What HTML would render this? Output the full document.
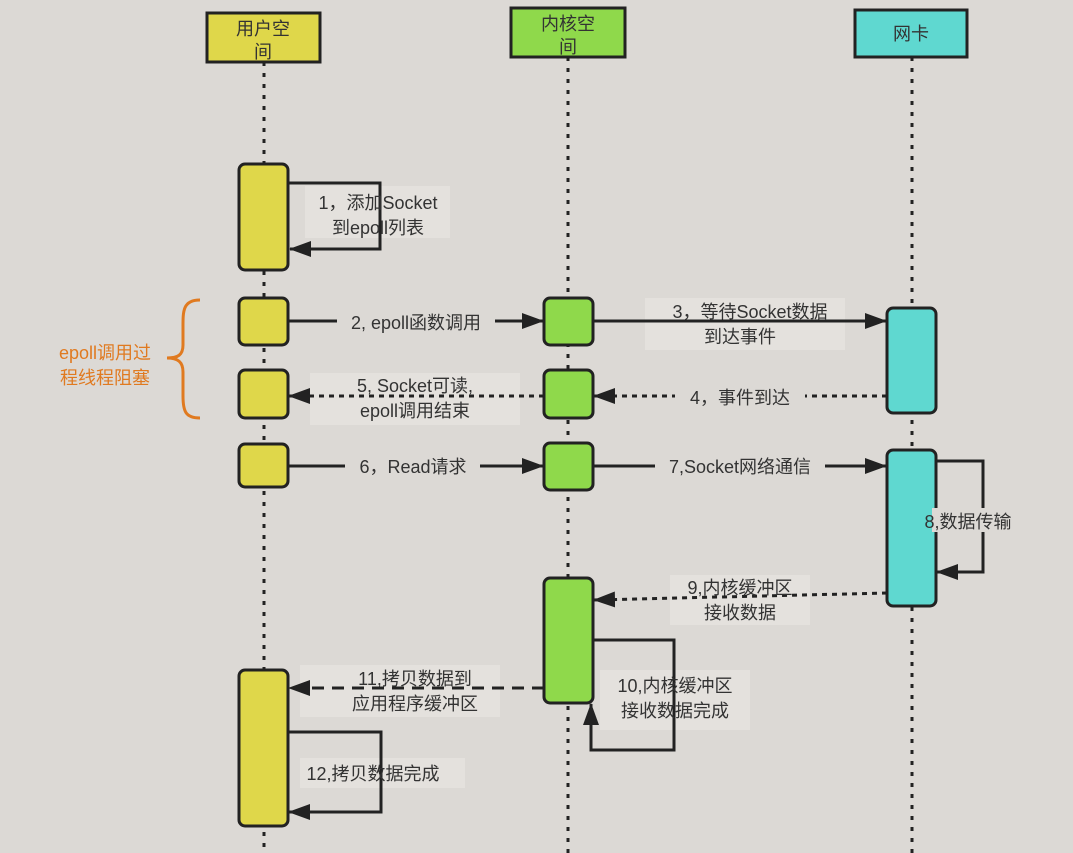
<!DOCTYPE html>
<html><head><meta charset="utf-8"><style>
html,body{margin:0;padding:0;background:#dcd9d5;}
svg{display:block;}
text{font-family:"Liberation Sans","Noto Sans CJK SC",sans-serif;font-size:18px;fill:#333;}
</style></head><body>
<svg width="1073" height="853" viewBox="0 0 1073 853" xmlns="http://www.w3.org/2000/svg">
<defs>
<marker id="a" markerWidth="12" markerHeight="10" refX="11" refY="5" orient="auto" markerUnits="userSpaceOnUse" viewBox="0 0 12 10"><path d="M0,0 L12,5 L0,10 Z" fill="#222"/></marker>
<marker id="b" markerWidth="22" markerHeight="16" refX="21" refY="8" orient="auto" markerUnits="userSpaceOnUse" viewBox="0 0 22 16"><path d="M0,0 L22,8 L0,16 Z" fill="#222"/></marker>
</defs>
<rect width="1073" height="853" fill="#dcd9d5"/>
<!-- lifelines -->
<g stroke="#222" stroke-width="3" stroke-dasharray="4,7">
<line x1="264" y1="62" x2="264" y2="853"/>
<line x1="568" y1="57" x2="568" y2="853"/>
<line x1="912" y1="57" x2="912" y2="853"/>
</g>
<!-- headers -->
<rect x="207" y="13" width="113" height="49" fill="#dfd74a" stroke="#222" stroke-width="3"/>
<text x="263" y="35" text-anchor="middle">用户空</text><text x="263" y="58" text-anchor="middle">间</text>
<rect x="511" y="8" width="114" height="49" fill="#8fd94b" stroke="#222" stroke-width="3"/>
<text x="568" y="30" text-anchor="middle">内核空</text><text x="568" y="53" text-anchor="middle">间</text>
<rect x="855" y="10" width="112" height="47" fill="#5fd8d0" stroke="#222" stroke-width="3"/>
<text x="911" y="40" text-anchor="middle">网卡</text>
<!-- label backgrounds -->
<g fill="#e4e1dd">
<rect x="305" y="186" width="145" height="52"/>
<rect x="645" y="298" width="200" height="52"/>
<rect x="310" y="373" width="210" height="52"/>
<rect x="600" y="670" width="150" height="60"/>
<rect x="300" y="665" width="200" height="52"/>
<rect x="300" y="758" width="165" height="30"/>
<rect x="670" y="575" width="140" height="50"/>
</g>
<!-- activations -->
<g stroke="#222" stroke-width="3">
<g fill="#dfd74a">
<rect x="239" y="164" width="49" height="106" rx="6"/>
<rect x="239" y="298" width="49" height="47" rx="6"/>
<rect x="239" y="370" width="49" height="48" rx="6"/>
<rect x="239" y="444" width="49" height="43" rx="6"/>
<rect x="239" y="670" width="49" height="156" rx="6"/>
</g>
<g fill="#8fd94b">
<rect x="544" y="298" width="49" height="47" rx="6"/>
<rect x="544" y="370" width="49" height="48" rx="6"/>
<rect x="544" y="443" width="49" height="47" rx="6"/>
<rect x="544" y="578" width="49" height="125" rx="6"/>
</g>
<g fill="#5fd8d0">
<rect x="887" y="308" width="49" height="105" rx="6"/>
<rect x="887" y="450" width="49" height="156" rx="6"/>
</g>
</g>
<!-- arrows -->
<g fill="none" stroke="#222" stroke-width="3">
<polyline points="288,183 380,183 380,249 290,249" marker-end="url(#b)"/>
<line x1="288" y1="321" x2="543" y2="321" marker-end="url(#b)"/>
<line x1="593" y1="321" x2="886" y2="321" marker-end="url(#b)"/>
<line x1="887" y1="396" x2="594" y2="396" stroke-dasharray="5,5" marker-end="url(#b)"/>
<line x1="544" y1="396" x2="289" y2="396" stroke-dasharray="5,5" marker-end="url(#b)"/>
<line x1="288" y1="466" x2="543" y2="466" marker-end="url(#b)"/>
<line x1="593" y1="466" x2="886" y2="466" marker-end="url(#b)"/>
<polyline points="936,461 983,461 983,572 937,572" marker-end="url(#b)"/>
<line x1="887" y1="593" x2="594" y2="600" stroke-dasharray="5,5" marker-end="url(#b)"/>
<polyline points="593,640 674,640 674,750 591,750 591,704" marker-end="url(#b)"/>
<line x1="544" y1="688" x2="289" y2="688" stroke-dasharray="12,8" marker-end="url(#b)"/>
<polyline points="288,732 381,732 381,812 289,812" marker-end="url(#b)"/>
</g>
<!-- labels -->
<g text-anchor="middle">
<text x="378" y="209">1，添加Socket</text><text x="378" y="234">到epoll列表</text>
<rect x="337" y="310" width="158" height="24" fill="#dcd9d5"/>
<text x="416" y="329">2, epoll函数调用</text>
<text x="750" y="318">3，等待Socket数据</text><text x="740" y="343">到达事件</text>
<rect x="675" y="385" width="130" height="24" fill="#dcd9d5"/>
<text x="740" y="404">4，事件到达</text>
<text x="415" y="392">5, Socket可读,</text><text x="415" y="417">epoll调用结束</text>
<rect x="345" y="455" width="135" height="24" fill="#dcd9d5"/>
<text x="413" y="473">6，Read请求</text>
<rect x="655" y="455" width="170" height="24" fill="#dcd9d5"/>
<text x="740" y="473">7,Socket网络通信</text>
<rect x="932" y="508" width="70" height="24" fill="#dcd9d5"/>
<text x="968" y="528">8,数据传输</text>
<text x="740" y="594">9,内核缓冲区</text><text x="740" y="619">接收数据</text>
<text x="675" y="692">10,内核缓冲区</text><text x="675" y="717">接收数据完成</text>
<text x="415" y="685">11,拷贝数据到</text><text x="415" y="710">应用程序缓冲区</text>
<text x="373" y="780">12,拷贝数据完成</text>
</g>
<!-- brace -->
<path d="M200,300 C182,300 183,312 183,330 L183,345 C183,355 178,358 167,358 C178,358 183,362 183,372 L183,396 C183,412 186,418 200,418" fill="none" stroke="#e07a20" stroke-width="3"/>
<g text-anchor="middle"><text x="105" y="359" style="fill:#e07a20">epoll调用过</text><text x="105" y="384" style="fill:#e07a20">程线程阻塞</text></g>
</svg>
</body></html>
